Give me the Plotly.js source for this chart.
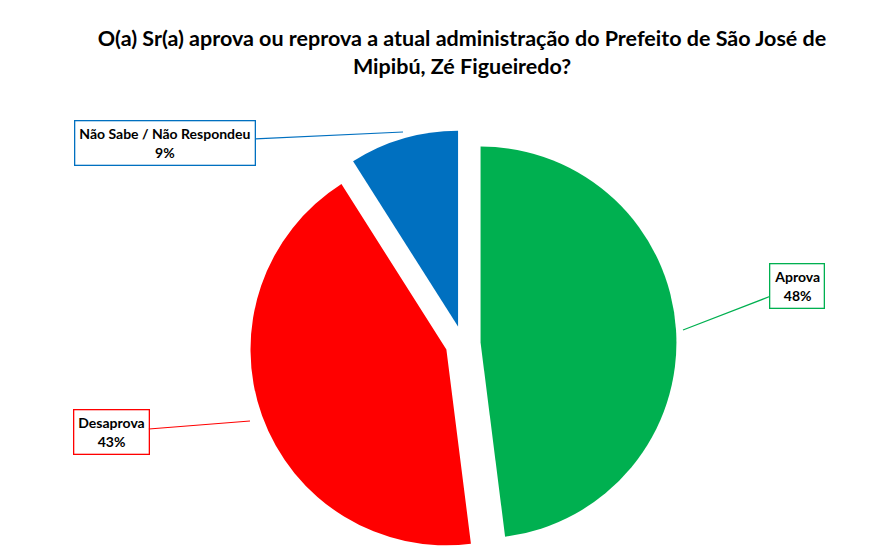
<!DOCTYPE html>
<html>
<head>
<meta charset="utf-8">
<script src="https://cdn.plot.ly/plotly-3.0.1.min.js"></script>
<style>
  html, body { margin: 0; padding: 0; background: #fff; }
  #chart { width: 896px; height: 557px; }
</style>
</head>
<body>
<div id="chart"></div>
<script>
// survey answers
var categories = ['Aprova', 'Desaprova', 'Não Sabe / Não Respondeu'];
var shares = [48, 43, 9];
var sliceColors = ['#00B050', '#FF0000', '#0070C0'];

var titleText = 'O(a) Sr(a) aprova ou reprova a atual administração do Prefeito de São José de<br>Mipibú, Zé Figueiredo?';

var W = 896, H = 557;
var margin = { l: 0, r: 0, t: 130, b: 0 };

// pixel -> paper coords of the plot area
function pxX(x) { return (x - margin.l) / (W - margin.l - margin.r); }
function pxY(y) { return 1 - (y - margin.t) / (H - margin.t - margin.b); }

// label boxes centres and the pointer tips, in pixels
var boxPos = [[797, 286], [111, 432], [165, 143]];
var tipPos = [[683, 330], [250, 421], [403, 132]];

var pie = {
    type: 'pie',
    labels: categories,
    values: shares,
    sort: false,
    direction: 'clockwise',
    rotation: 0,
    pull: [0.09, 0.09, 0.09],
    marker: { colors: sliceColors, line: { width: 0 } },
    textinfo: 'none',
    hoverinfo: 'label+percent',
    domain: { x: [0.1, 0.9334], y: [0, 1] }
};

var annotations = [];
for (var i = 0; i < categories.length; i++) {
    annotations.push({
        xref: 'paper', yref: 'paper',
        x: pxX(tipPos[i][0]), y: pxY(tipPos[i][1]),
        ax: pxX(boxPos[i][0]), ay: pxY(boxPos[i][1]),
        axref: 'paper', ayref: 'paper',
        text: '<b>' + categories[i] + '<br>' + shares[i] + '%</b>',
        showarrow: true,
        arrowhead: 0,
        arrowwidth: 1.2,
        arrowcolor: sliceColors[i],
        bordercolor: sliceColors[i],
        borderwidth: 1.3,
        borderpad: 4,
        bgcolor: '#ffffff',
        align: 'center',
        font: { family: 'Lato, Arial, sans-serif', size: 14, color: '#000000' }
    });
}

var layout = {
    width: W,
    height: H,
    margin: margin,
    showlegend: false,
    paper_bgcolor: '#ffffff',
    title: {
        text: titleText,
        x: 462 / W,
        xanchor: 'center',
        y: 1 - 46 / H,
        yanchor: 'middle',
        yref: 'container',
        font: { family: 'Lato, Arial, sans-serif', size: 21.5, color: '#000000', weight: 'bold' }
    },
    annotations: annotations
};

Plotly.newPlot('chart', [pie], layout, { displayModeBar: false, staticPlot: true });
</script>
</body>
</html>
